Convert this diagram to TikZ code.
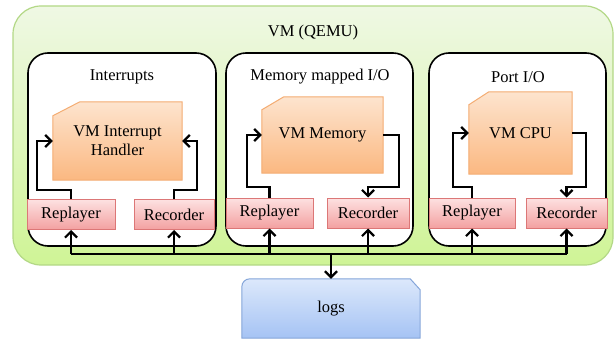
\documentclass[tikz,border=0pt]{standalone}
\usepackage{fontspec}
\setmainfont{Liberation Serif}
\usetikzlibrary{arrows.meta,calc}
\definecolor{gTop}{HTML}{EFF8E4}
\definecolor{gBot}{HTML}{CFF496}
\definecolor{gLine}{HTML}{B3D886}
\definecolor{oTop}{HTML}{FDE4CE}
\definecolor{oBot}{HTML}{FBB881}
\definecolor{oLine}{HTML}{F4AC72}
\definecolor{rTop}{HTML}{FDE1E1}
\definecolor{rBot}{HTML}{F3A1A1}
\definecolor{rLine}{HTML}{DC7777}
\definecolor{bTop}{HTML}{DCE8FB}
\definecolor{bBot}{HTML}{A5C3F4}
\definecolor{bLine}{HTML}{84A5D9}
\tikzset{
  txt/.style={font=\fontsize{16.5}{19}\selectfont, align=center},
  outerbox/.style={draw=gLine, line width=1.2pt, rounded corners=28pt, top color=gTop, bottom color=gBot, inner sep=0pt},
  groupbox/.style={draw=black, line width=1.6pt, rounded corners=20pt, fill=white, inner sep=0pt},
  ghost/.style={inner sep=0pt, txt},
  orangepath/.style={draw=oLine, line width=1pt, top color=oTop, bottom color=oBot},
  redbox/.style={draw=rLine, line width=1pt, top color=rTop, bottom color=rBot, inner sep=0pt, minimum height=30pt, txt},
  bluepath/.style={draw=bLine, line width=1pt, top color=bTop, bottom color=bBot},
  wire/.style={draw=black, line width=2.6pt},
  conn/.style={wire, -{Straight Barb[length=6pt,width=12pt,line width=2.2pt]}}
}
\begin{document}
\begin{tikzpicture}[x=1pt,y=-1pt]
\useasboundingbox (0,0) rectangle (616,342);
% outer VM box
\node[outerbox, minimum width=600pt, minimum height=259pt] (vm) at (313,135.5) {};
\node[txt] (vmtitle) at (313,33) {VM (QEMU)};
% group boxes
\node[groupbox, minimum width=188pt, minimum height=193pt] (g1) at (122,149.5) {};
\node[groupbox, minimum width=187pt, minimum height=193pt] (g2) at (319.5,149.5) {};
\node[groupbox, minimum width=177pt, minimum height=193pt] (g3) at (517.5,149.5) {};
\node[txt] (t1) at (122,77) {Interrupts};
\node[txt] (t2) at (320,77) {Memory mapped I/O};
\node[txt] (t3) at (518,77) {Port I/O};
% orange boxes (chamfered top-left)
\node[ghost, minimum width=129pt, minimum height=78pt] (o1) at (117.5,141) {};
\node[ghost, minimum width=121pt, minimum height=76pt] (o2) at (322.5,135) {};
\node[ghost, minimum width=103pt, minimum height=82pt] (o3) at (520.5,133) {};
\foreach \o/\cx/\cy in {o1/27pt/14pt, o2/22pt/13pt, o3/20pt/13pt}{
  \path[orangepath] ([yshift=-\cy]\o.north west) -- ([xshift=\cx]\o.north west) -- (\o.north east) -- (\o.south east) -- (\o.south west) -- cycle;
}
\node[txt] at (o1) {VM Interrupt\\Handler};
\node[txt] at (o2) {VM Memory};
\node[txt] at (o3) {VM CPU};
% red boxes
\node[redbox, minimum width=88pt] (rep1) at (71,214.5) {Replayer};
\node[redbox, minimum width=80pt] (rec1) at (174,214.5) {Recorder};
\node[redbox, minimum width=87pt] (rep2) at (269.5,213) {Replayer};
\node[redbox, minimum width=82pt] (rec2) at (368,213) {Recorder};
\node[redbox, minimum width=86pt] (rep3) at (472,213) {Replayer};
\node[redbox, minimum width=81pt] (rec3) at (566.5,213) {Recorder};
% logs
\node[ghost, minimum width=178pt, minimum height=59pt] (logs) at (331,308.5) {};
\path[bluepath] (logs.south west) -- ([yshift=-8pt]logs.north west) arc[start angle=180, end angle=90, radius=8pt] -- ([xshift=-10pt]logs.north east) -- ([yshift=-11pt]logs.north east) -- (logs.south east) -- cycle;
\node[txt] at (logs) {logs};
% internal connectors
\draw[conn] (rep1.north) -- (71,190) -- (37,190) |- (o1.west);
\draw[conn] (rec1.north) -- (174,190) -- (197,190) |- (o1.east);
\draw[conn] (rep2.north) -- (269.5,187) -- (247,187) |- (o2.west);
\draw[conn] (o2.east) -- (399,135) -- (399,187) -| (rec2.north);
\draw[conn] (rep3.north) -- (472,187) -- (453,187) |- (o3.west);
\draw[conn] (o3.east) -- (586,133) -- (586,187) -| (rec3.north);
% bus
\coordinate (bus) at (331,254);
\draw[wire] (rep1.south |- bus) -- (rec3.south |- bus);
\foreach \r in {rep1,rec1,rep2,rec2,rep3,rec3}{
  \draw[conn] (\r.south |- bus) -- (\r.south);
}
\draw[conn] (bus) -- (logs.north);
\end{tikzpicture}
\end{document}
